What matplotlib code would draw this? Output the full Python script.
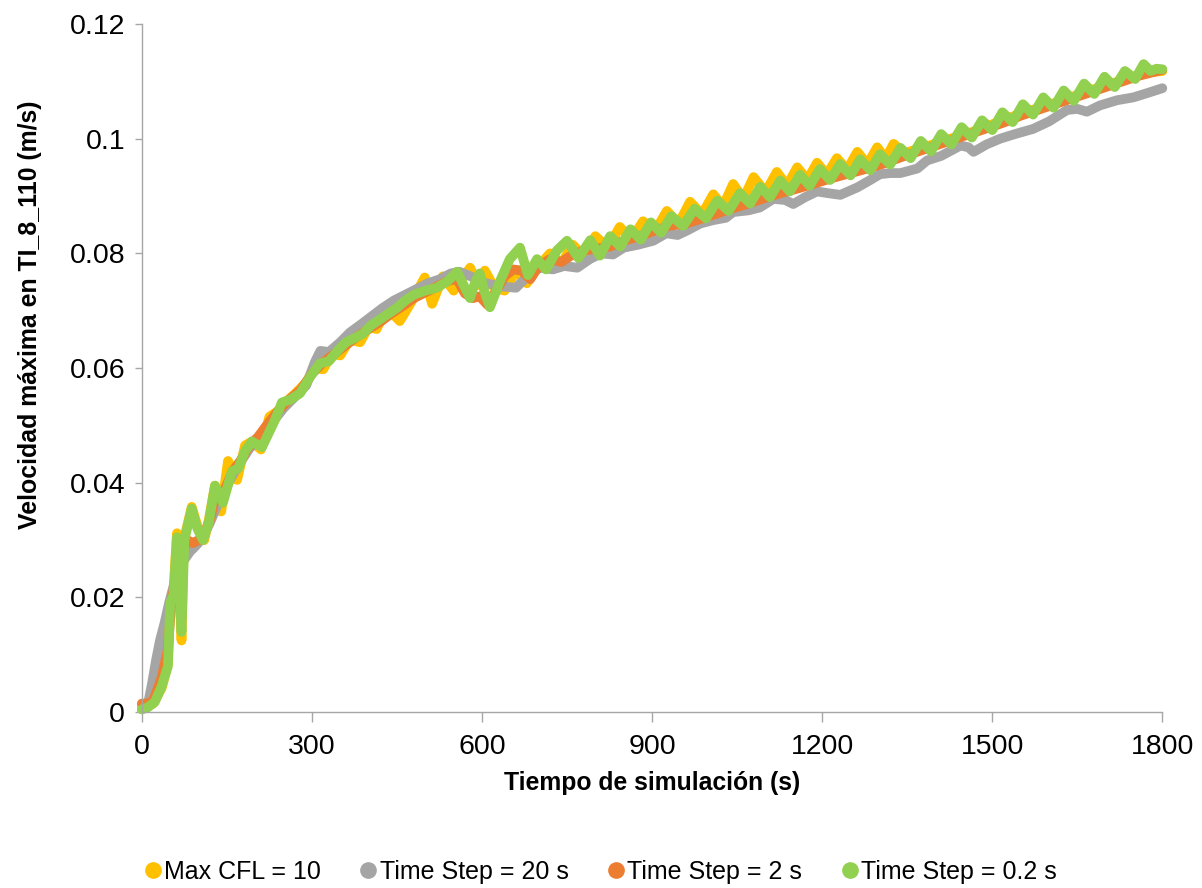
# -*- coding: utf-8 -*-
import numpy as np
import matplotlib
matplotlib.use('Agg')
import matplotlib.pyplot as plt

plt.rcParams['font.family'] = ['Liberation Sans', 'DejaVu Sans']

# Max CFL = 10
t_cfl = [0, 20, 35, 46, 50, 56, 62, 70, 74, 88, 100, 110, 118, 129, 140, 152, 168, 182, 194, 210,
         225, 240, 255, 270, 290, 305, 320, 335, 350, 367, 385, 400, 414, 432, 455, 477, 499, 512,
         531, 550, 579, 593, 605, 622, 640, 660, 679, 700, 720, 740, 760, 780, 800, 822, 843, 864,
         884, 905, 926, 947, 967, 988, 1008, 1025, 1043, 1061, 1079, 1100, 1120, 1138, 1156, 1174,
         1191, 1208, 1226, 1244, 1262, 1280, 1297, 1312, 1326, 1345, 1380, 1420, 1460, 1500, 1540,
         1580, 1620, 1660, 1700, 1740, 1770, 1800]
v_cfl = [0.0012, 0.0015, 0.0042, 0.0085, 0.0195, 0.0215, 0.0312, 0.0125, 0.0300, 0.0358, 0.0318,
         0.0300, 0.0335, 0.0395, 0.0350, 0.0438, 0.0405, 0.0465, 0.0472, 0.0458, 0.0515, 0.0525,
         0.0542, 0.0555, 0.0575, 0.0600, 0.0598, 0.0625, 0.0622, 0.0650, 0.0645, 0.0672, 0.0668,
         0.0705, 0.0682, 0.0718, 0.0758, 0.0712, 0.0760, 0.0735, 0.0775, 0.0745, 0.0770, 0.0740,
         0.0735, 0.0770, 0.0748, 0.0778, 0.0800, 0.0782, 0.0815, 0.0795, 0.0830, 0.0810, 0.0846,
         0.0825, 0.0856, 0.0838, 0.0874, 0.0852, 0.0890, 0.0868, 0.0903, 0.0882, 0.0921, 0.0895,
         0.0933, 0.0907, 0.0942, 0.0918, 0.0950, 0.0928, 0.0958, 0.0937, 0.0966, 0.0946, 0.0977,
         0.0955, 0.0985, 0.0965, 0.0991, 0.0975, 0.0985, 0.0998, 0.1010, 0.1025, 0.1040, 0.1053,
         0.1065, 0.1080, 0.1093, 0.1105, 0.1115, 0.1118]

# Time Step = 20 s
t_20 = [0, 10, 18, 25, 32, 40, 48, 56, 65, 75, 85, 95, 106, 120, 135, 150, 170, 190, 210, 230,
        250, 270, 290, 305, 315, 330, 350, 367, 385, 405, 425, 445, 465, 485, 505, 526, 545, 560,
        580, 600, 620, 640, 660, 675, 690, 705, 725, 745, 768, 790, 810, 831, 850, 875, 902, 925,
        945, 962, 985, 1008, 1030, 1043, 1070, 1090, 1114, 1135, 1149, 1170, 1191, 1210, 1232,
        1262, 1285, 1302, 1320, 1338, 1368, 1385, 1410, 1444, 1458, 1467, 1490, 1514, 1540, 1572,
        1600, 1632, 1650, 1667, 1690, 1720, 1749, 1775, 1800]
v_20 = [0.0005, 0.0010, 0.0050, 0.0090, 0.0125, 0.0155, 0.0190, 0.0220, 0.0248, 0.0266, 0.0280,
        0.0290, 0.0302, 0.0330, 0.0365, 0.0395, 0.0430, 0.0460, 0.0480, 0.0505, 0.0530, 0.0550,
        0.0570, 0.0610, 0.0630, 0.0628, 0.0645, 0.0662, 0.0675, 0.0690, 0.0705, 0.0718, 0.0728,
        0.0738, 0.0748, 0.0755, 0.0765, 0.0768, 0.0760, 0.0750, 0.0745, 0.0742, 0.0740, 0.0755,
        0.0770, 0.0775, 0.0772, 0.0778, 0.0775, 0.0790, 0.0800, 0.0798, 0.0810, 0.0815, 0.0822,
        0.0835, 0.0832, 0.0840, 0.0852, 0.0858, 0.0862, 0.0872, 0.0875, 0.0880, 0.0895, 0.0893,
        0.0886, 0.0898, 0.0908, 0.0905, 0.0902, 0.0915, 0.0928, 0.0938, 0.0940, 0.0940, 0.0948,
        0.0962, 0.0970, 0.0988, 0.0985, 0.0977, 0.0990, 0.1000, 0.1008, 0.1017, 0.1030, 0.1050,
        0.1052, 0.1047, 0.1058, 0.1067, 0.1072, 0.1080, 0.1088]

# Time Step = 2 s
t_2 = [0, 10, 20, 35, 46, 52, 58, 65, 72, 80, 90, 100, 110, 120, 130, 145, 160, 175, 190, 205,
       220, 240, 260, 280, 300, 320, 340, 360, 380, 400, 420, 440, 460, 480, 500, 520, 540, 556,
       570, 584, 596, 610, 625, 640, 655, 670, 685, 700, 720, 740, 760, 780, 800, 826, 850, 879,
       900, 930, 960, 985, 1010, 1040, 1070, 1100, 1130, 1160, 1190, 1220, 1250, 1280, 1310, 1340,
       1370, 1400, 1430, 1460, 1490, 1520, 1550, 1580, 1610, 1640, 1670, 1700, 1730, 1760, 1780,
       1800]
v_2 = [0.0015, 0.0015, 0.0020, 0.0060, 0.0110, 0.0190, 0.0225, 0.0255, 0.0280, 0.0300, 0.0295,
       0.0300, 0.0310, 0.0335, 0.0375, 0.0385, 0.0420, 0.0440, 0.0465, 0.0480, 0.0500, 0.0525,
       0.0545, 0.0562, 0.0590, 0.0610, 0.0625, 0.0640, 0.0655, 0.0668, 0.0680, 0.0695, 0.0708,
       0.0722, 0.0732, 0.0742, 0.0752, 0.0755, 0.0730, 0.0722, 0.0725, 0.0710, 0.0735, 0.0760,
       0.0772, 0.0770, 0.0755, 0.0778, 0.0790, 0.0785, 0.0798, 0.0805, 0.0808, 0.0812, 0.0822,
       0.0830, 0.0838, 0.0848, 0.0852, 0.0860, 0.0868, 0.0878, 0.0887, 0.0897, 0.0906, 0.0914,
       0.0923, 0.0932, 0.0940, 0.0948, 0.0957, 0.0968, 0.0978, 0.0988, 0.0998, 0.1008, 0.1018,
       0.1028, 0.1040, 0.1050, 0.1060, 0.1070, 0.1080, 0.1090, 0.1100, 0.1110, 0.1115, 0.1120]

# Time Step = 0.2 s
t_02 = [0, 10, 23, 35, 46, 50, 56, 62, 70, 75, 88, 98, 108, 118, 129, 143, 159, 170, 182, 194,
        212, 235, 247, 262, 279, 297, 314, 330, 345, 360, 375, 390, 405, 420, 435, 450, 465, 480,
        500, 520, 540, 556, 570, 579, 588, 596, 605, 614, 632, 649, 667, 681, 697, 713, 732, 750,
        770, 791, 808, 826, 844, 862, 880, 898, 916, 934, 955, 975, 995, 1015, 1035, 1055, 1073,
        1091, 1108, 1126, 1143, 1161, 1178, 1196, 1214, 1232, 1250, 1267, 1285, 1302, 1320, 1338,
        1356, 1374, 1392, 1410, 1428, 1446, 1464, 1482, 1500, 1518, 1536, 1554, 1572, 1590, 1608,
        1626, 1644, 1662, 1680, 1698, 1716, 1734, 1752, 1767, 1779, 1790, 1800]
v_02 = [0.0005, 0.0008, 0.0018, 0.0045, 0.0080, 0.0190, 0.0205, 0.0305, 0.0140, 0.0300, 0.0355,
        0.0320, 0.0300, 0.0330, 0.0395, 0.0365, 0.0420, 0.0425, 0.0455, 0.0472, 0.0462, 0.0510,
        0.0540, 0.0545, 0.0556, 0.0585, 0.0608, 0.0612, 0.0630, 0.0645, 0.0652, 0.0660, 0.0675,
        0.0685, 0.0695, 0.0705, 0.0718, 0.0728, 0.0735, 0.0740, 0.0752, 0.0768, 0.0740, 0.0722,
        0.0750, 0.0765, 0.0732, 0.0706, 0.0752, 0.0790, 0.0810, 0.0762, 0.0790, 0.0772, 0.0805,
        0.0822, 0.0792, 0.0823, 0.0796, 0.0830, 0.0812, 0.0842, 0.0824, 0.0854, 0.0836, 0.0865,
        0.0848, 0.0878, 0.0861, 0.0892, 0.0874, 0.0905, 0.0887, 0.0916, 0.0898, 0.0927, 0.0908,
        0.0937, 0.0918, 0.0947, 0.0928, 0.0956, 0.0936, 0.0964, 0.0945, 0.0973, 0.0955, 0.0984,
        0.0966, 0.0996, 0.0978, 0.1008, 0.0990, 0.1020, 0.1002, 0.1032, 0.1015, 0.1046, 0.1029,
        0.1060, 0.1042, 0.1072, 0.1054, 0.1084, 0.1066, 0.1096, 0.1078, 0.1108, 0.1090, 0.1118,
        0.1104, 0.1130, 0.1118, 0.1122, 0.1121]

nombres = ['Max CFL = 10', 'Time Step = 20 s', 'Time Step = 2 s', 'Time Step = 0.2 s']
colores = ['#FFC000', '#A5A5A5', '#ED7D31', '#92D050']

x_ticks = [0, 300, 600, 900, 1200, 1500, 1800]
y_ticks = [0, 0.02, 0.04, 0.06, 0.08, 0.1, 0.12]
y_labels = ['0', '0.02', '0.04', '0.06', '0.08', '0.1', '0.12']

fig = plt.figure(figsize=(12.02, 8.88), dpi=100)
ax = fig.add_axes([0.118, 0.198, 0.849, 0.775])

series = [(t_cfl, v_cfl), (t_20, v_20), (t_2, v_2), (t_02, v_02)]
for (t, v), c, n in zip(series, colores, nombres):
    ax.plot(t, v, color=c, lw=7, solid_joinstyle='round', solid_capstyle='round',
            clip_on=False, label=n)

ax.set_xlim(0, 1800)
ax.set_ylim(0, 0.12)
ax.set_xticks(x_ticks)
ax.set_yticks(y_ticks)
ax.set_yticklabels(y_labels)

# estilo tipo Excel
for s in ['top', 'right']:
    ax.spines[s].set_visible(False)
for s in ['left', 'bottom']:
    ax.spines[s].set_color('#A6A6A6')
    ax.spines[s].set_linewidth(1)
ax.tick_params(axis='both', direction='out', color='#A6A6A6', labelsize=20.5, width=1)
ax.tick_params(axis='x', length=7, pad=9)
ax.tick_params(axis='y', length=5, pad=7)

ax.set_xlabel('Tiempo de simulación (s)', fontsize=17.8, fontweight='bold')
ax.xaxis.set_label_coords(0.5, -0.085)
ax.set_ylabel('Velocidad máxima en TI_8_110 (m/s)', fontsize=17.9, fontweight='bold')
ax.yaxis.set_label_coords(-0.098, 0.577)

# leyenda abajo con circulos
handles = [plt.Line2D([], [], marker='o', ls='', color=c, markersize=11) for c in colores]
fig.legend(handles, nombres, loc='center', bbox_to_anchor=(0.5, 1 - 872 / 888), ncol=4,
           frameon=False, fontsize=18, handlelength=0.6, handletextpad=0.15,
           columnspacing=1.6, borderaxespad=0)

plt.savefig('out.png', dpi=100)
